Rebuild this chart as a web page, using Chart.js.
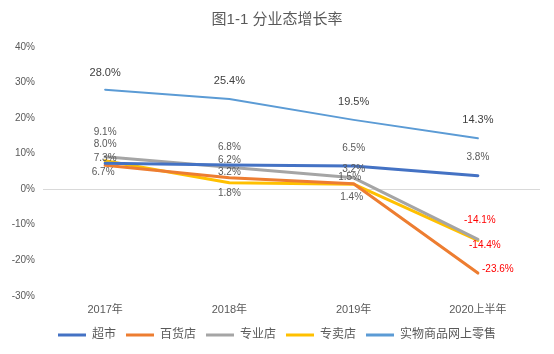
<!DOCTYPE html>
<html>
<head>
<meta charset="utf-8">
<script src="https://cdn.jsdelivr.net/npm/chart.js@4.4.0/dist/chart.umd.min.js"></script>
<style>
html,body{margin:0;padding:0;background:#fff;}
#wrap{width:554px;height:354px;position:relative;}
</style>
</head>
<body>
<div id="wrap"><canvas id="c" width="554" height="354"></canvas></div>
<script>
const categories = ["2017年", "2018年", "2019年", "2020上半年"];
const seriesNames = ["超市", "百货店", "专业店", "专卖店", "实物商品网上零售"];
const supermarket = [7.3, 6.8, 6.5, 3.8];
const departmentStore = [6.7, 3.2, 1.5, -23.6];
const specialtyStore = [9.1, 6.2, 3.2, -14.1];
const exclusiveStore = [8.0, 1.8, 1.4, -14.4];
const onlineRetail = [28.0, 25.4, 19.5, 14.3];
const yTicks = [-30, -20, -10, 0, 10, 20, 30, 40];

const FONT = '"Liberation Sans", "Noto Sans CJK SC", sans-serif';
const colors = ['#4472C4', '#ED7D31', '#A5A5A5', '#FFC000', '#5B9BD5'];
const widths = [3, 3, 3, 3, 2];
const allData = [supermarket, departmentStore, specialtyStore, exclusiveStore, onlineRetail];

// label offsets [dx, dy] per dataset/point (drawing style only)
const labelOffsets = [
  [[0, -5], [0, -18], [0, -18], [0, -18]],
  [[-2, 7], [0, -6], [-4, -7], [20, -4]],
  [[0, -25], [0, -7], [0, -9], [2, -19]],
  [[0, -16], [0, 10], [-2, 13], [7, 5]],
  [[0, -17], [0, -18], [0, -18], [0, -18]]
];

const layoutPlugin = {
  id: 'layoutTweak',
  afterLayout(chart) {
    const lg = chart.legend;
    if (lg) { lg.left += 14; lg.top += 2; }
    const tb = chart.titleBlock;
    if (tb) { tb.left += 14; }
  }
};

const labelPlugin = {
  id: 'valueLabels',
  afterDatasetsDraw(chart) {
    const ctx = chart.ctx;
    ctx.save();
    ctx.textAlign = 'center';
    ctx.textBaseline = 'middle';
    chart.data.datasets.forEach((ds, i) => {
      const meta = chart.getDatasetMeta(i);
      meta.data.forEach((pt, j) => {
        const v = ds.data[j];
        const off = labelOffsets[i][j];
        const big = i === 4;
        ctx.font = (big ? '11px ' : '10px ') + FONT;
        ctx.fillStyle = v < 0 ? '#FF0000' : (big ? '#404040' : '#595959');
        ctx.fillText(v.toFixed(1) + '%', pt.x + off[0], pt.y + off[1]);
      });
    });
    ctx.restore();
  }
};

new Chart(document.getElementById('c'), {
  type: 'line',
  data: {
    labels: categories,
    datasets: allData.map((d, i) => ({
      label: seriesNames[i],
      data: d,
      borderColor: colors[i],
      backgroundColor: colors[i],
      borderWidth: widths[i],
      pointRadius: 0,
      pointHoverRadius: 0,
      tension: 0,
      fill: false,
      borderCapStyle: 'round',
      borderJoinStyle: 'round'
    }))
  },
  options: {
    responsive: false,
    animation: false,
    devicePixelRatio: 1,
    layout: { padding: { left: 0, right: 14, top: 0, bottom: 5 } },
    plugins: {
      title: {
        display: true,
        text: '图1-1 分业态增长率',
        color: '#595959',
        font: { family: FONT, size: 15, weight: 'normal' },
        padding: { top: 11, bottom: 18 }
      },
      legend: {
        display: true,
        position: 'bottom',
        labels: {
          boxWidth: 28,
          boxHeight: 3,
          padding: 10,
          color: '#595959',
          font: { family: FONT, size: 12 },
          generateLabels(chart) {
            return chart.data.datasets.map((ds, i) => ({
              text: ds.label,
              fillStyle: colors[i],
              strokeStyle: colors[i],
              lineWidth: 0,
              hidden: false,
              datasetIndex: i,
              fontColor: '#595959'
            }));
          }
        }
      },
      tooltip: { enabled: false }
    },
    scales: {
      x: {
        offset: true,
        grid: { display: false },
        border: { display: false },
        ticks: { color: '#595959', font: { family: FONT, size: 11 }, padding: 0, maxRotation: 0 }
      },
      y: {
        min: -30,
        max: 40,
        afterBuildTicks(scale) { scale.ticks = yTicks.map(v => ({ value: v })); },
        afterFit(scale) { scale.width = 43; },
        border: { display: false },
        grid: {
          drawTicks: false,
          color: ctx => (ctx.tick && ctx.tick.value === 0) ? '#D9D9D9' : 'rgba(0,0,0,0)',
          lineWidth: 1
        },
        ticks: {
          color: '#595959',
          font: { family: FONT, size: 10 },
          padding: 8,
          callback: v => v + '%'
        }
      }
    }
  },
  plugins: [layoutPlugin, labelPlugin]
});
</script>
</body>
</html>
